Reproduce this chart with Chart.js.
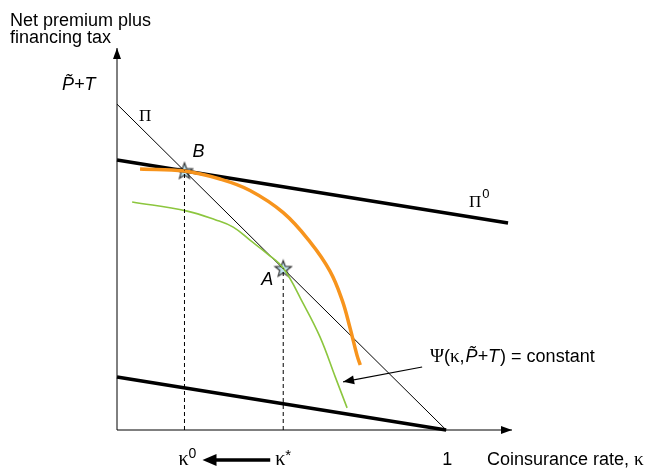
<!DOCTYPE html>
<html>
<head>
<meta charset="utf-8">
<script src="https://cdn.jsdelivr.net/npm/chart.js@4.4.1/dist/chart.umd.min.js"></script>
<style>
  html, body { margin: 0; padding: 0; background: #fff; }
  #wrap { width: 648px; height: 468px; position: relative; }
</style>
</head>
<body>
<div id="wrap"><canvas id="grafico"></canvas></div>
<script>
// budget lines (coinsurance rate kappa, net premium plus tax)
const lineaPi = [[0, 0.853], [1, 0]];
const lineaPi0 = [[0, 0.707], [1.188, 0.542]];
const lineaBaja = [[0, 0.139], [1, 0]];

// indifference curves
const curvaNaranja = [
  [0.070, 0.683], [0.205, 0.678], [0.313, 0.657], [0.404, 0.627],
  [0.505, 0.569], [0.587, 0.492], [0.647, 0.416], [0.684, 0.340],
  [0.708, 0.267], [0.729, 0.196], [0.739, 0.170]
];
const curvaVerde = [
  [0.046, 0.597], [0.213, 0.573], [0.300, 0.550], [0.353, 0.531],
  [0.404, 0.497], [0.456, 0.462], [0.505, 0.424], [0.565, 0.332],
  [0.617, 0.243], [0.663, 0.139], [0.699, 0.058]
];

// equilibrium points
const puntoB = [0.205, 0.679];
const puntoA = [0.505, 0.423];

// annotation arrow for Psi label
const flechaPsi = [[0.927, 0.165], [0.687, 0.126]];

const aPuntos = (pares) => pares.map(([x, y]) => ({ x, y }));

function crearEstrella() {
  const c = document.createElement('canvas');
  c.width = 20;
  c.height = 20;
  const g = c.getContext('2d');
  g.beginPath();
  for (let i = 0; i < 10; i++) {
    const r = i % 2 === 0 ? 8.5 : 3.6;
    const ang = -Math.PI / 2 + i * Math.PI / 5;
    const px = 10 + r * Math.cos(ang);
    const py = 10.8 + r * Math.sin(ang);
    if (i === 0) g.moveTo(px, py); else g.lineTo(px, py);
  }
  g.closePath();
  g.fillStyle = '#bfe4f0';
  g.fill();
  g.strokeStyle = '#333';
  g.lineWidth = 1.2;
  g.stroke();
  return c;
}
const estrella = crearEstrella();

function punta(ctx, x1, y1, x2, y2, largo, ancho) {
  const ang = Math.atan2(y2 - y1, x2 - x1);
  ctx.beginPath();
  ctx.moveTo(x2, y2);
  ctx.lineTo(x2 - largo * Math.cos(ang) + ancho * Math.sin(ang), y2 - largo * Math.sin(ang) - ancho * Math.cos(ang));
  ctx.lineTo(x2 - largo * Math.cos(ang) - ancho * Math.sin(ang), y2 - largo * Math.sin(ang) + ancho * Math.cos(ang));
  ctx.closePath();
  ctx.fill();
}

function texto(ctx, str, x, y, fuente) {
  ctx.font = fuente;
  ctx.fillText(str, x, y);
  return x + ctx.measureText(str).width;
}

const SANS = "'Liberation Sans', Arial, sans-serif";
const SERIF = "'Liberation Serif', 'Times New Roman', serif";

const decoraciones = {
  id: 'decoraciones',
  afterDatasetsDraw(chart) {
    const { ctx, scales: { x: xs, y: ys } } = chart;
    const px = (v) => xs.getPixelForValue(v);
    const py = (v) => ys.getPixelForValue(v);
    ctx.save();
    ctx.fillStyle = '#000';
    ctx.strokeStyle = '#000';
    ctx.textBaseline = 'alphabetic';

    // axis arrowheads
    punta(ctx, px(0), py(0), px(1.2), py(0), 11, 4);
    punta(ctx, px(0), py(0), px(0), py(1), 11, 4);

    // Psi arrow
    const [p1, p2] = flechaPsi;
    punta(ctx, px(p1[0]), py(p1[1]), px(p2[0]), py(p2[1]), 11, 4.5);

    // title
    texto(ctx, 'Net premium plus', 10, 26, `18px ${SANS}`);
    texto(ctx, 'financing tax', 10, 43, `18px ${SANS}`);
    texto(ctx, 'P\u0303+T', 62, 90, `italic 18px ${SANS}`);

    // line labels
    texto(ctx, '\u03A0', 139, 121, `17px ${SERIF}`);
    let xx = texto(ctx, '\u03A0', 469, 207, `17px ${SERIF}`);
    texto(ctx, '0', xx + 1, 198, `13px ${SANS}`);
    texto(ctx, 'B', px(puntoB[0]) + 8, 157, `italic 18px ${SANS}`);
    texto(ctx, 'A', px(puntoA[0]) - 22, 285, `italic 18px ${SANS}`);

    // Psi label
    xx = texto(ctx, '\u03A8', 430, 362, `19px ${SERIF}`);
    xx = texto(ctx, '(', xx, 362, `18px ${SANS}`);
    xx = texto(ctx, '\u03BA', xx, 362, `19px ${SERIF}`);
    xx = texto(ctx, ',', xx, 362, `18px ${SANS}`);
    xx = texto(ctx, 'P\u0303+T', xx + 1, 362, `italic 18px ${SANS}`);
    texto(ctx, ') = constant', xx + 1, 362, `18px ${SANS}`);

    // bottom labels
    const yb = 465;
    xx = texto(ctx, '\u03BA', px(puntoB[0]) - 6, yb, `20px ${SERIF}`);
    texto(ctx, '0', xx, yb - 7, `14px ${SANS}`);
    xx = texto(ctx, '\u03BA', px(puntoA[0]) - 8, yb, `20px ${SERIF}`);
    texto(ctx, '*', xx, yb - 5, `15px ${SANS}`);
    ctx.lineWidth = 3.5;
    ctx.beginPath();
    ctx.moveTo(px(puntoA[0]) - 13, yb - 5);
    ctx.lineTo(px(puntoB[0]) + 28, yb - 5);
    ctx.stroke();
    punta(ctx, px(puntoA[0]) - 30, yb - 5, px(puntoB[0]) + 18, yb - 5, 14, 6);
    texto(ctx, '1', px(1) - 4, yb, `18px ${SANS}`);
    xx = texto(ctx, 'Coinsurance rate, ', 487, yb, `18px ${SANS}`);
    texto(ctx, '\u03BA', xx, yb, `19px ${SERIF}`);
    ctx.restore();
  }
};

const linea = (pares, color, ancho, extra = {}) => ({
  data: aPuntos(pares),
  borderColor: color,
  borderWidth: ancho,
  pointRadius: 0,
  fill: false,
  clip: false,
  ...extra
});

new Chart(document.getElementById('grafico'), {
  type: 'scatter',
  data: {
    datasets: [
      linea([[0, 0], [1.2, 0]], '#000', 1),
      linea([[0, 0], [0, 1]], '#000', 1),
      linea([[puntoB[0], 0], puntoB], '#000', 1, { borderDash: [4, 3] }),
      linea([[puntoA[0], 0], puntoA], '#000', 1, { borderDash: [4, 3] }),
      linea(lineaBaja, '#000', 3.5),
      linea(curvaVerde, '#8cc63e', 1.6, { tension: 0.4 }),
      linea(curvaNaranja, '#f7941d', 3.5, { tension: 0.4 }),
      linea(lineaPi0, '#000', 3.5),
      linea(lineaPi, '#000', 1),
      linea(flechaPsi, '#000', 1.2),
      {
        data: aPuntos([puntoB, puntoA]),
        pointStyle: estrella,
        pointRadius: 9,
        showLine: false,
        clip: false
      }
    ].map((d) => ({ showLine: true, ...d }))
  },
  options: {
    responsive: true,
    maintainAspectRatio: false,
    animation: false,
    layout: { padding: { left: 117, right: 136, top: 48, bottom: 38 } },
    plugins: { legend: { display: false }, tooltip: { enabled: false } },
    scales: {
      x: { type: 'linear', min: 0, max: 1.2, display: false },
      y: { type: 'linear', min: 0, max: 1, display: false }
    }
  },
  plugins: [decoraciones]
});
</script>
</body>
</html>
